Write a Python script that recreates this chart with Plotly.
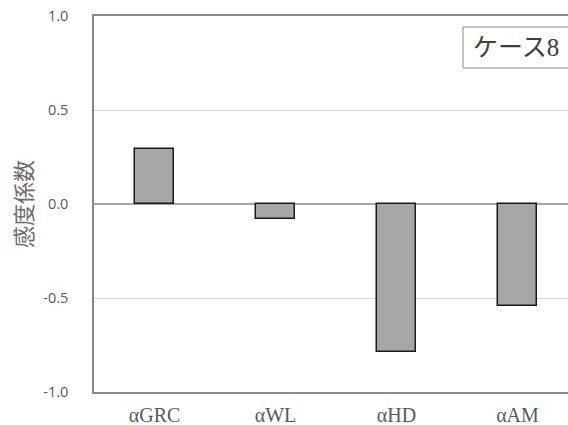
import plotly.graph_objects as go

categories = ["αGRC", "αWL", "αHD", "αAM"]
values = [0.293, -0.08, -0.787, -0.54]
y_ticks = [-1.0, -0.5, 0.0, 0.5, 1.0]
y_tick_labels = ["-1.0", "-0.5", "0.0", "0.5", "1.0"]
y_title = "感度係数"
case_label = "ケース8"

OFF = 0  # body margin removed via post_script
W, H = 568 - OFF, 425 - OFF
L, T = 94 - OFF, 16 - OFF
B = H - (392 - OFF)
plot_w = W - L
plot_h = H - T - B
cat_px = 121.0

def px_x(page_x):
    return (page_x - OFF - L) / plot_w

def px_y(page_y):
    return 1 - (page_y - OFF - T) / plot_h

fig = go.Figure()
fig.add_trace(go.Bar(
    x=list(range(len(categories))), y=values,
    width=0.315,
    marker=dict(color="#a6a6a6", line=dict(color="#1a1a1a", width=1.5)),
    showlegend=False, hoverinfo="skip",
))

fig.update_layout(
    width=W, height=H,
    margin=dict(l=L, r=0, t=T, b=B, autoexpand=False),
    plot_bgcolor="white", paper_bgcolor="white",
    bargap=0,
    xaxis=dict(
        range=[-0.5, -0.5 + plot_w / cat_px],
        tickmode="array", tickvals=list(range(len(categories))), ticktext=categories,
        showgrid=False, zeroline=False,
        showline=True, linecolor="#898989", linewidth=1.5, mirror=True,
        ticks="", ticklabelstandoff=4, ticklabeloverflow="allow",
        tickfont=dict(family="Liberation Serif, Times New Roman, serif", size=20, color="#595959"),
        automargin=False,
    ),
    yaxis=dict(
        range=[-1.0, 1.0],
        tickmode="array", tickvals=y_ticks, ticktext=y_tick_labels,
        showgrid=True, gridcolor="#d9d9d9", gridwidth=1,
        zeroline=True, zerolinecolor="#a6a6a6", zerolinewidth=1.5,
        showline=True, linecolor="#898989", linewidth=1.5, mirror=False,
        ticks="", ticklabelstandoff=21, ticklabeloverflow="allow",
        tickfont=dict(family="Open Sans, DejaVu Sans, sans-serif", size=14.5, color="#595959"),
        automargin=False,
    ),
    shapes=[dict(
        type="rect", xref="paper", yref="paper",
        x0=px_x(463), x1=px_x(600), y0=px_y(68), y1=px_y(27),
        line=dict(color="#898989", width=1), fillcolor="white", layer="above",
    )],
)

fig.add_annotation(
    xref="paper", yref="paper",
    x=px_x(22), y=0.5,
    text=y_title, textangle=-90, showarrow=False,
    xanchor="center", yanchor="middle",
    font=dict(family="Noto Sans CJK JP, sans-serif", size=22, color="#6b6b6b"),
)

fig.add_annotation(
    xref="paper", yref="paper",
    x=px_x(471), y=px_y(47.5),
    xanchor="left", yanchor="middle",
    text=case_label, showarrow=False,
    font=dict(family="Liberation Serif, Noto Sans CJK JP, serif", size=25, color="#404040"),
)

fig.write_html("out.html", config={"displayModeBar": False},
               post_script="document.body.style.margin='0';")
